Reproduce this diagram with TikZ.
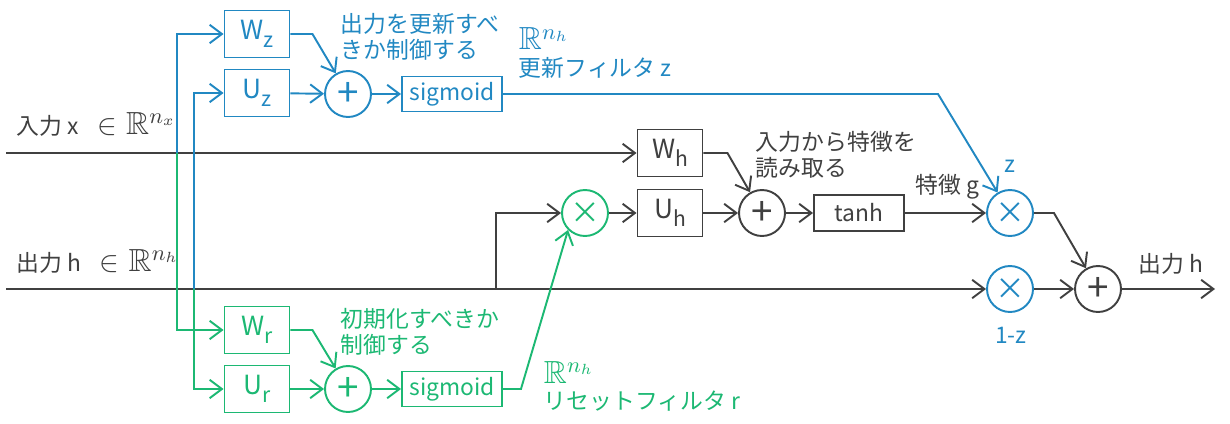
\documentclass[tikz,border=0pt]{standalone}
\usepackage{amssymb}
\usepackage{graphicx}
\usepackage{fontspec}
\setmainfont{Noto Sans CJK JP}
\usetikzlibrary{arrows.meta}
\definecolor{zblue}{RGB}{33,136,194}
\definecolor{rgreen}{RGB}{28,184,115}
\definecolor{ink}{RGB}{64,64,64}
\newcommand{\sbs}[1]{\raisebox{-0.3em}{\fontsize{12pt}{12pt}\selectfont #1}}
\newcommand{\Rn}[1]{\scalebox{1.4}{$\mathbb{R}^{#1}$}}
\newcommand{\In}{\scalebox{1.4}{$\in$}}

\begin{document}
\begin{tikzpicture}[x=0.02cm, y=-0.02cm, line width=1.1pt, ink,
    >={Straight Barb[length=7pt,width=10.5pt]},
    wbox/.style={draw, minimum width=1.3cm, minimum height=0.94cm, inner sep=0pt,
        font=\fontsize{15pt}{15pt}\selectfont},
    fbox/.style={draw, minimum width=2cm, minimum height=0.7cm, inner sep=0pt,
        font=\fontsize{13pt}{13pt}\selectfont},
    op/.style={draw, circle, minimum size=0.92cm, inner sep=0pt,
        font=\fontsize{22pt}{22pt}\selectfont},
    mul/.style={op, font=\fontsize{17pt}{17pt}\selectfont},
    lbl/.style={inner sep=0pt, align=left, font=\fontsize{13pt}{15pt}\selectfont}]
        \useasboundingbox (0,0) rectangle (1230,423);

        % gate z
        \node[wbox, zblue] (wz) at (257, 34) {W\sbs{z}};
        \node[wbox, zblue] (uz) at (257, 93) {U\sbs{z}};
        \node[op, zblue] (addz) at (348, 94) {+};
        \node[fbox, zblue] (sigz) at (452, 94) {sigmoid};

        % gate r
        \node[wbox, rgreen] (wr) at (257, 330) {W\sbs{r}};
        \node[wbox, rgreen] (ur) at (257, 389) {U\sbs{r}};
        \node[op, rgreen] (addr) at (348, 389) {+};
        \node[fbox, rgreen] (sigr) at (452, 389) {sigmoid};

        % candidate
        \node[mul, rgreen] (mulr) at (585, 213) {×};
        \node[wbox] (wh) at (670, 153) {W\sbs{h}};
        \node[wbox] (uh) at (670, 213) {U\sbs{h}};
        \node[op] (addh) at (762, 213) {+};
        \node[fbox, minimum width=1.8cm, minimum height=0.72cm] (tanh) at (859, 213) {tanh};

        % output
        \node[mul, zblue] (mulz) at (1010, 213) {×};
        \node[mul, zblue] (mulzc) at (1010, 289) {×};
        \node[op] (addo) at (1098, 289) {+};

        \coordinate (xin) at (6, 153);
        \coordinate (hin) at (6, 289);
        \coordinate (hout) at (1215, 289);
        \coordinate (xsplit) at (177, 153);
        \coordinate (hsplit) at (194, 289);
        \coordinate (hbranch) at (496, 289);
        \coordinate (zbend) at (938, 94);

        % labels
        \node[lbl, anchor=base west] (xlab) at (16, 134) {入力 x\hspace{0.8em}\In\hspace{0.4em}\Rn{n_x}};
        \node[lbl, anchor=base west] (hlab) at (16, 271) {出力 h\hspace{0.8em}\In\hspace{0.4em}\Rn{n_h}};
        \node[lbl, anchor=north west, zblue] (zdesc) at (340, 12) {出力を更新すべ\\きか制御する};
        \node[lbl, anchor=north west, zblue] (zname) at (518, 27) {\Rn{n_h}\\更新フィルタ z};
        \node[lbl, anchor=north west, rgreen] (rdesc) at (340, 307) {初期化すべきか\\制御する};
        \node[lbl, anchor=north west, rgreen] (rname) at (543, 360) {\Rn{n_h}\\リセットフィルタ r};
        \node[lbl, anchor=north west] (gdesc) at (755, 130) {入力から特徴を\\読み取る};
        \node[lbl, anchor=base west] (glab) at (915, 193) {特徴 g};
        \node[lbl, anchor=base, zblue] (zlab) at (1010, 172) {z};
        \node[lbl, anchor=base, zblue] (zclab) at (1011, 343) {1-z};
        \node[lbl, anchor=base west] (olab) at (1138, 272) {出力 h};

        % main lines
        \draw[->] (xin) -- (wh);
        \draw[->] (hin) -- (mulzc);
        \draw[->, zblue] (xsplit) |- (wz);
        \draw[->, rgreen] (xsplit) |- (wr);
        \draw[->, zblue] (hsplit) |- (uz);
        \draw[->, rgreen] (hsplit) |- (ur);

        \draw[->, zblue] (wz.east) -- ++(22, 0) -- (addz);
        \draw[->, zblue] (uz) -- (addz);
        \draw[->, zblue] (addz) -- (sigz);
        \draw[->, zblue] (sigz) -- (zbend) -- (mulz);

        \draw[->, rgreen] (wr.east) -- ++(22, 0) -- (addr);
        \draw[->, rgreen] (ur) -- (addr);
        \draw[->, rgreen] (addr) -- (sigr);
        \draw[->, rgreen] (sigr.east) -- ++(18, 0) -- (mulr.south west);

        \draw[->] (hbranch) |- (mulr);
        \draw (mulr) edge[->] (uh)
            (uh) edge[->] (addh)
            (addh) edge[->] (tanh)
            (tanh) edge[->] (mulz);
        \draw[->] (wh.east) -- ++(24, 0) -- (addh);
        \draw[->] (mulz.east) -- ++(20, 0) -- (addo);
        \draw (mulzc) edge[->] (addo)
            (addo) edge[->] (hout);
    \end{tikzpicture}
\end{document}
